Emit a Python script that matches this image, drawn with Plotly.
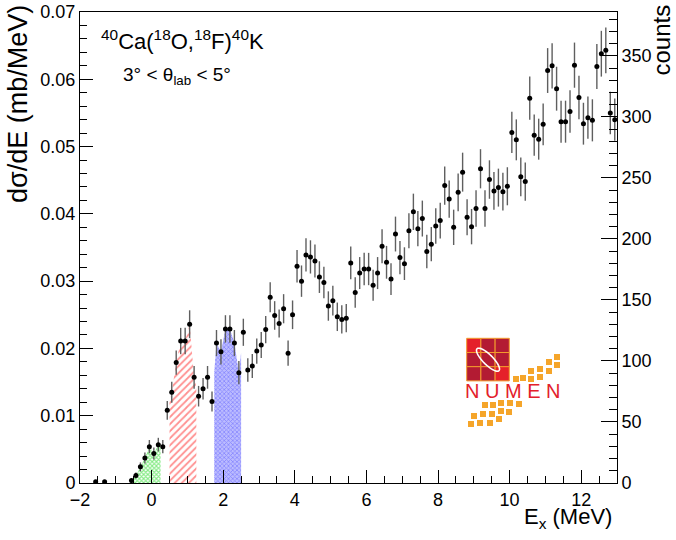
import numpy as np
import plotly.graph_objects as go

# ---------------- data ----------------
ex_mev = [-1.5625, -1.3125, -0.5625, -0.4375, -0.3125, -0.1875, -0.0625, 0.0625, 0.1875, 0.3125,
          0.4375, 0.5625, 0.6875, 0.8125, 0.9375, 1.0625, 1.1875, 1.3125, 1.4375, 1.5625,
          1.6875, 1.8125, 1.9375, 2.0625, 2.1875, 2.3125, 2.4375, 2.5625, 2.6875, 2.8125,
          2.9375, 3.0625, 3.1875, 3.3125, 3.4375, 3.5625, 3.6875, 3.8125, 3.9375, 4.0625,
          4.1875, 4.3125, 4.4375, 4.5625, 4.6875, 4.8125, 4.9375, 5.0625, 5.1875, 5.3125,
          5.4375, 5.5625, 5.6875, 5.8125, 5.9375, 6.0625, 6.1875, 6.3125, 6.4375, 6.5625,
          6.6875, 6.8125, 6.9375, 7.0625, 7.1875, 7.3125, 7.4375, 7.5625, 7.6875, 7.8125,
          7.9375, 8.0625, 8.1875, 8.3125, 8.4375, 8.5625, 8.6875, 8.8125, 8.9375, 9.0625,
          9.1875, 9.3125, 9.4375, 9.5625, 9.6875, 9.8125, 9.9375, 10.0625, 10.1875, 10.3125,
          10.4375, 10.5625, 10.6875, 10.8125, 10.9375, 11.0625, 11.1875, 11.3125, 11.4375, 11.5625,
          11.6875, 11.8125, 11.9375, 12.0625, 12.1875, 12.3125, 12.4375, 12.5625, 12.6875, 12.8125,
          12.9375]
dsig_de = [0.00018, 0.00018, 0.00036, 0.0011, 0.0024, 0.0037, 0.0054, 0.0044, 0.0057, 0.0054,
           0.0108, 0.0135, 0.0179, 0.0211, 0.0211, 0.0236, 0.0157, 0.0129, 0.0140, 0.0157,
           0.0121, 0.0208, 0.0195, 0.0229, 0.0229, 0.0208, 0.0164, 0.0224, 0.0168, 0.0174,
           0.0196, 0.0205, 0.0228, 0.0276, 0.0249, 0.0237, 0.0259, 0.0193, 0.0250, 0.0322,
           0.0300, 0.0339, 0.0336, 0.0330, 0.0306, 0.0298, 0.0263, 0.0271, 0.0247, 0.0243,
           0.0245, 0.0327, 0.0283, 0.0312, 0.0318, 0.0318, 0.0294, 0.0312, 0.0352, 0.0328,
           0.0303, 0.0370, 0.0335, 0.0326, 0.0375, 0.0403, 0.0378, 0.0393, 0.0344, 0.0355,
           0.0382, 0.0390, 0.0442, 0.0422, 0.0380, 0.0432, 0.0462, 0.0395, 0.0381, 0.0408,
           0.0467, 0.0408, 0.0451, 0.0434, 0.0439, 0.0433, 0.0441, 0.0521, 0.0510, 0.0455,
           0.0448, 0.0572, 0.0517, 0.0511, 0.0533, 0.0613, 0.0620, 0.0586, 0.0537, 0.0537,
           0.0552, 0.0621, 0.0573, 0.0534, 0.0543, 0.0539, 0.0619, 0.0638, 0.0643, 0.0550,
           0.0540]

# conversion between the two axes: 0.07 mb/MeV <-> this many counts
counts_at_top = 386.0
x_range = [-2.0, 13.0]
y_range = [0.0, 0.07]

# shaded state regions (MeV)
regions = [(-0.5, 0.25), (0.5, 1.25), (1.75, 2.5)]
region_styles = [
    dict(shape="x", fgcolor="#10d810", bgcolor="rgba(255,255,255,0)", size=3, solidity=0.6),
    dict(shape="/", fgcolor="#ff2222", bgcolor="rgba(255,255,255,0)", size=5, solidity=0.35),
    dict(shape="x", fgcolor="#5050ff", bgcolor="#bcbcff", size=3, solidity=0.45),
]

tick_x = [-2, 0, 2, 4, 6, 8, 10, 12]
tick_y = [0, 0.01, 0.02, 0.03, 0.04, 0.05, 0.06, 0.07]
tick_counts = [0, 50, 100, 150, 200, 250, 300, 350]

# ---------------- figure ----------------
W, H = 676, 540
PL, PR, PT, PB = 80, 617, 12, 483          # plot-area edges in page pixels
ML, MT = PL, PT
MR = W - PR
MB = H - PB
FONT = "Liberation Sans, Arial, Helvetica, sans-serif"

ex = np.array(ex_mev)
ys = np.array(dsig_de)
scale = y_range[1] / counts_at_top
err = np.sqrt(np.maximum(ys / scale, 1.0)) * scale

fig = go.Figure()

# shaded regions: area under the data inside each window
for (lo, hi), st in zip(regions, region_styles):
    m = (ex > lo) & (ex < hi)
    xs = np.concatenate([[lo], [lo], ex[m], [hi], [hi]])
    yl = np.interp(lo, ex, ys)
    yh = np.interp(hi, ex, ys)
    yv = np.concatenate([[0], [yl], ys[m], [yh], [0]])
    fig.add_trace(go.Scatter(x=xs, y=yv, mode="lines", line=dict(width=0),
                             fill="toself", fillcolor="rgba(0,0,0,0)",
                             fillpattern=st, hoverinfo="skip", showlegend=False))

fig.add_trace(go.Scatter(
    x=ex, y=ys, mode="markers",
    marker=dict(color="black", size=5),
    error_y=dict(type="data", array=err, color="#5f5f5f", thickness=1.4, width=0),
    showlegend=False))

# dummy trace on right axis
fig.add_trace(go.Scatter(x=[x_range[0]], y=[0], yaxis="y2", mode="markers",
                         marker=dict(opacity=0), showlegend=False, hoverinfo="skip"))

axis_common = dict(showgrid=False, zeroline=False, showline=True, linecolor="black",
                   linewidth=1, ticks="inside", tickcolor="black", tickwidth=1,
                   ticklabeloverflow="allow",
                   tickfont=dict(family=FONT, size=18, color="black"))

fig.update_layout(
    width=W, height=H, margin=dict(l=ML, r=MR, t=MT, b=MB, autoexpand=False),
    paper_bgcolor="white", plot_bgcolor="white",
    font=dict(family=FONT, color="black"),
    xaxis=dict(range=x_range, tickvals=tick_x, ticklen=13, mirror=True,
               minor=dict(dtick=0.5, tick0=0, ticklen=7, ticks="inside", tickcolor="black"),
               **axis_common),
    yaxis=dict(range=y_range, tickvals=tick_y, ticktext=["0"] + [f"{v:.2f}" for v in tick_y[1:]],
               ticklen=13, mirror=True,
               minor=dict(dtick=0.002, tick0=0, ticklen=7, ticks="inside", tickcolor="black"),
               **axis_common),
    yaxis2=dict(range=[0, counts_at_top], overlaying="y", side="right", anchor="x",
                tickvals=tick_counts, ticklen=16,
                minor=dict(dtick=10, tick0=0, ticklen=8, ticks="inside", tickcolor="black"),
                **axis_common),
)

# ---------------- texts ----------------
def px(x):
    return (x - PL) / (PR - PL)

def py(y):
    return (PB - y) / (PB - PT)

ann = []
ann.append(dict(text="dσ/dE (mb/MeV)", x=px(18), y=py(3), xref="paper", yref="paper",
                textangle=-90, xanchor="center", yanchor="top", showarrow=False,
                font=dict(family=FONT, size=27)))
ann.append(dict(text="counts", x=px(661), y=py(3), xref="paper", yref="paper",
                textangle=-90, xanchor="center", yanchor="top", showarrow=False,
                font=dict(family=FONT, size=24)))
ann.append(dict(text="E<sub>x</sub> (MeV)", x=px(614), y=py(534), xref="paper", yref="paper",
                xanchor="right", yanchor="bottom", showarrow=False,
                font=dict(family=FONT, size=22)))
ann.append(dict(text="<sup>40</sup>Ca(<sup>18</sup>O,<sup>18</sup>F)<sup>40</sup>K",
                x=px(99), y=py(40), xref="paper", yref="paper",
                xanchor="left", yanchor="middle", showarrow=False,
                font=dict(family=FONT, size=22)))
ann.append(dict(text="3° < θ<sub>lab</sub> < 5°",
                x=px(121), y=py(76), xref="paper", yref="paper",
                xanchor="left", yanchor="middle", showarrow=False,
                font=dict(family=FONT, size=19)))

# ---------------- NUMEN logo (decoration) ----------------
shapes = []
x0, y0, cell = 466.7, 338.3, 14.2
bright = {(0, 0), (2, 2)}
for i in range(3):
    for j in range(3):
        col = "#e5202a" if (i, j) in bright else "#b31b33"
        shapes.append(dict(type="rect", xref="paper", yref="paper",
                           x0=px(x0 + i * cell), x1=px(x0 + (i + 1) * cell),
                           y0=py(y0 + j * cell), y1=py(y0 + (j + 1) * cell),
                           fillcolor=col, line=dict(color="#f39a2c", width=1)))
# white elliptical arrow along the diagonal
cx, cy, a, b = 488.0, 359.7, 15.5, 5.0
t = np.linspace(0, 2 * np.pi, 60)
ang = np.deg2rad(45)
exs = cx + a * np.cos(t) * np.cos(ang) - b * np.sin(t) * np.sin(ang)
eys = cy + a * np.cos(t) * np.sin(ang) + b * np.sin(t) * np.cos(ang)
path = "M " + " L ".join(f"{px(u):.5f},{py(v):.5f}" for u, v in zip(exs, eys)) + " Z"
shapes.append(dict(type="path", xref="paper", yref="paper", path=path,
                   line=dict(color="white", width=1.6)))
logo_squares = [(516, 379), (523, 378), (531, 379), (531, 371), (540, 377), (540, 369),
                (549, 371), (549, 362), (557, 365), (557, 357),
                (485, 405), (493, 405), (501, 403), (510, 403), (519, 404),
                (474, 416), (483, 414), (492, 414), (501, 411), (509, 412),
                (471, 424), (480, 423), (490, 423), (499, 419)]
for (u, v) in logo_squares:
    shapes.append(dict(type="rect", xref="paper", yref="paper",
                       x0=px(u - 3), x1=px(u + 3), y0=py(v - 3), y1=py(v + 3),
                       fillcolor="#f5a52a", line=dict(width=0)))
ann.append(dict(text="N U M E N", x=px(512.5), y=py(391), xref="paper", yref="paper",
                xanchor="center", yanchor="middle", showarrow=False,
                font=dict(family=FONT, size=20, color="#e3202b")))

fig.update_layout(annotations=ann, shapes=shapes)
# remove the page's default 8 px body margin so the figure fills the window
fig.write_html("out.html", config={"displayModeBar": False},
               post_script="document.body.style.margin='0';")
